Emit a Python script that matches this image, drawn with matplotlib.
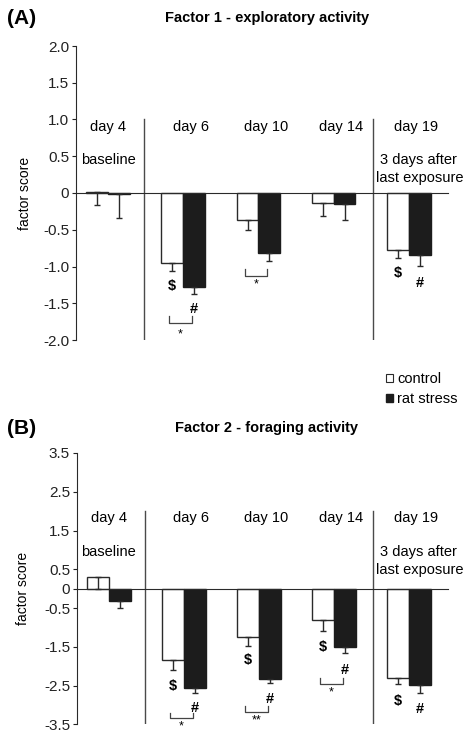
#!/usr/bin/env python
"""Factor scores (exploratory / foraging activity) per day, control vs rat stress."""

import numpy as np
import matplotlib as mpl
mpl.use('Agg')
import matplotlib.pyplot as plt
from matplotlib.patches import Patch

plt.rcParams['font.family'] = ['Liberation Sans', 'DejaVu Sans']

FIGSIZE = (4.73, 7.32)
DPI = 100
EDGE = '#2a2a2a'
DARK = '#1c1c1c'
DIVIDER = '#4a4a4a'
WIDTH = 0.29

DAYS = ['day 4', 'day 6', 'day 10', 'day 14', 'day 19']

# Factor 1 - exploratory activity
F1_CONTROL = [0.01, -0.955, -0.37, -0.135, -0.77]
F1_CONTROL_ERR = [0.18, 0.10, 0.13, 0.18, 0.11]
F1_STRESS = [-0.01, -1.275, -0.815, -0.15, -0.85]
F1_STRESS_ERR = [0.33, 0.105, 0.115, 0.22, 0.14]
F1_DOLLAR = {1: -1.27, 4: -1.09}
F1_HASH = {1: -1.58, 4: -1.23}
F1_BRACKET = {1: (-1.68, -1.77), 2: (-1.04, -1.13)}
F1_STARS = {1: ('*', -1.92), 2: ('*', -1.24)}
F1_TICKS = [2.0, 1.5, 1.0, 0.5, 0, -0.5, -1.0, -1.5, -2.0]
F1_TICKLABELS = ['2.0', '1.5', '1.0', '0.5', '0', '-0.5', '-1.0', '-1.5', '-2.0']

# Factor 2 - foraging activity
F2_CONTROL = [0.30, -1.85, -1.25, -0.81, -2.30]
F2_CONTROL_ERR = [0.30, 0.26, 0.22, 0.27, 0.17]
F2_STRESS = [-0.32, -2.56, -2.32, -1.51, -2.49]
F2_STRESS_ERR = [0.18, 0.14, 0.12, 0.16, 0.19]
F2_DOLLAR = {1: -2.51, 2: -1.85, 3: -1.5, 4: -2.89}
F2_HASH = {1: -3.07, 2: -2.84, 3: -2.09, 4: -3.10}
F2_BRACKET = {1: (-3.20, -3.33), 2: (-3.04, -3.18), 3: (-2.30, -2.45)}
F2_STARS = {1: ('*', -3.55), 2: ('**', -3.39), 3: ('*', -2.68)}
F2_TICKS = [3.5, 2.5, 1.5, 0.5, 0, -0.5, -1.5, -2.5, -3.5]
F2_TICKLABELS = ['3.5', '2.5', '1.5', '0.5', '0', '-0.5', '-1.5', '-2.5', '-3.5']


def draw_panel(ax, control, control_err, stress, stress_err, ticks, ticklabels,
               dollar, hashes, brackets, stars, div_top, day_y, base_y, after_y,
               label_x):
    """Draw one factor panel."""
    x = np.arange(len(DAYS))
    ax.bar(x - WIDTH / 2, control, WIDTH, color='white', edgecolor=EDGE,
           linewidth=1.0, zorder=2)
    ax.bar(x + WIDTH / 2, stress, WIDTH, color=DARK, edgecolor=DARK,
           linewidth=1.0, zorder=2)
    # one-sided (downward) error bars
    ax.errorbar(x - WIDTH / 2, control,
                yerr=[control_err, np.zeros(len(DAYS))],
                fmt='none', ecolor=EDGE, elinewidth=1.0, capsize=2.3, zorder=3)
    ax.errorbar(x + WIDTH / 2, stress,
                yerr=[stress_err, np.zeros(len(DAYS))],
                fmt='none', ecolor=EDGE, elinewidth=1.0, capsize=2.3, zorder=3)

    ymin, ymax = ticks[-1], ticks[0]
    ax.set_xlim(-0.425, 4.52)
    ax.set_ylim(ymin, ymax)
    ax.spines['top'].set_visible(False)
    ax.spines['right'].set_visible(False)
    ax.spines['bottom'].set_position(('data', 0))
    ax.spines['bottom'].set_color(EDGE)
    ax.spines['left'].set_color(EDGE)
    ax.set_xticks([])
    ax.set_yticks(ticks)
    ax.set_yticklabels(ticklabels)
    ax.tick_params(axis='y', direction='out', length=3, width=0.8,
                   labelsize=11, pad=2, colors='#222222')
    ax.set_ylabel('factor score', fontsize=10)
    ax.yaxis.set_label_coords(label_x, 0.5)

    for xd in (0.48, 3.52):
        ax.plot([xd, xd], [ymin, div_top], color=DIVIDER, lw=1.0, zorder=1)

    for i, day in enumerate(DAYS):
        off = 0 if i == 0 else 0.1
        ax.text(i + off, day_y, day, ha='center', va='center', fontsize=10.5)
    ax.text(0, base_y, 'baseline', ha='center', va='center', fontsize=10.5)
    ax.text(4.13, after_y[0], '3 days after', ha='center', va='center',
            fontsize=10.5)
    ax.text(4.14, after_y[1], 'last exposure', ha='center', va='center',
            fontsize=10.5)

    for g, yv in dollar.items():
        ax.text(g - WIDTH / 2, yv, '$', ha='center', va='center',
                fontsize=10.5, fontweight='bold')
    for g, yv in hashes.items():
        ax.text(g + WIDTH / 2, yv, '#', ha='center', va='center',
                fontsize=10.5, fontweight='bold')
    for g, (top, bot) in brackets.items():
        x0, x1 = g - WIDTH / 2 - 0.04, g + WIDTH / 2 - 0.03
        ax.plot([x0, x0, x1, x1], [top, bot, bot, top], color='#444444',
                lw=0.9, zorder=3)
    for g, (s, yv) in stars.items():
        ax.text(g - 0.035, yv, s, ha='center', va='center', fontsize=9,
                clip_on=False)


fig = plt.figure(figsize=FIGSIZE, dpi=DPI)

ax1 = fig.add_axes([76 / 473, 1 - 340 / 732, 372 / 473, 294 / 732])
draw_panel(ax1, F1_CONTROL, F1_CONTROL_ERR, F1_STRESS, F1_STRESS_ERR,
           F1_TICKS, F1_TICKLABELS, F1_DOLLAR, F1_HASH, F1_BRACKET, F1_STARS,
           div_top=1.0, day_y=0.9, base_y=0.45, after_y=(0.45, 0.2),
           label_x=-0.118)

ax2 = fig.add_axes([77 / 473, 1 - 724.3 / 732, 371 / 473, 271.3 / 732])
draw_panel(ax2, F2_CONTROL, F2_CONTROL_ERR, F2_STRESS, F2_STRESS_ERR,
           F2_TICKS, F2_TICKLABELS, F2_DOLLAR, F2_HASH, F2_BRACKET, F2_STARS,
           div_top=2.0, day_y=1.82, base_y=0.95, after_y=(0.95, 0.48),
           label_x=-0.126)

fig.text(7 / 473, 1 - 18 / 732, '(A)', fontsize=15, fontweight='bold',
         ha='left', va='center')
fig.text(267 / 473, 1 - 18 / 732, 'Factor 1 - exploratory activity',
         fontsize=10.5, fontweight='bold', ha='center', va='center')
fig.text(7 / 473, 1 - 428 / 732, '(B)', fontsize=15, fontweight='bold',
         ha='left', va='center')
fig.text(266 / 473, 1 - 428 / 732, 'Factor 2 - foraging activity',
         fontsize=10.5, fontweight='bold', ha='center', va='center')

handles = [Patch(facecolor='white', edgecolor=EDGE, linewidth=0.8),
           Patch(facecolor=DARK, edgecolor=DARK)]
fig.legend(handles, ['control', 'rat stress'], loc='upper left',
           bbox_to_anchor=(386 / 473, 1 - 372 / 732), frameon=False,
           fontsize=10.5, handlelength=0.5, handleheight=0.5,
           handletextpad=0.25, labelspacing=0.4, borderpad=0,
           borderaxespad=0)

plt.savefig('out.png', dpi=DPI)
